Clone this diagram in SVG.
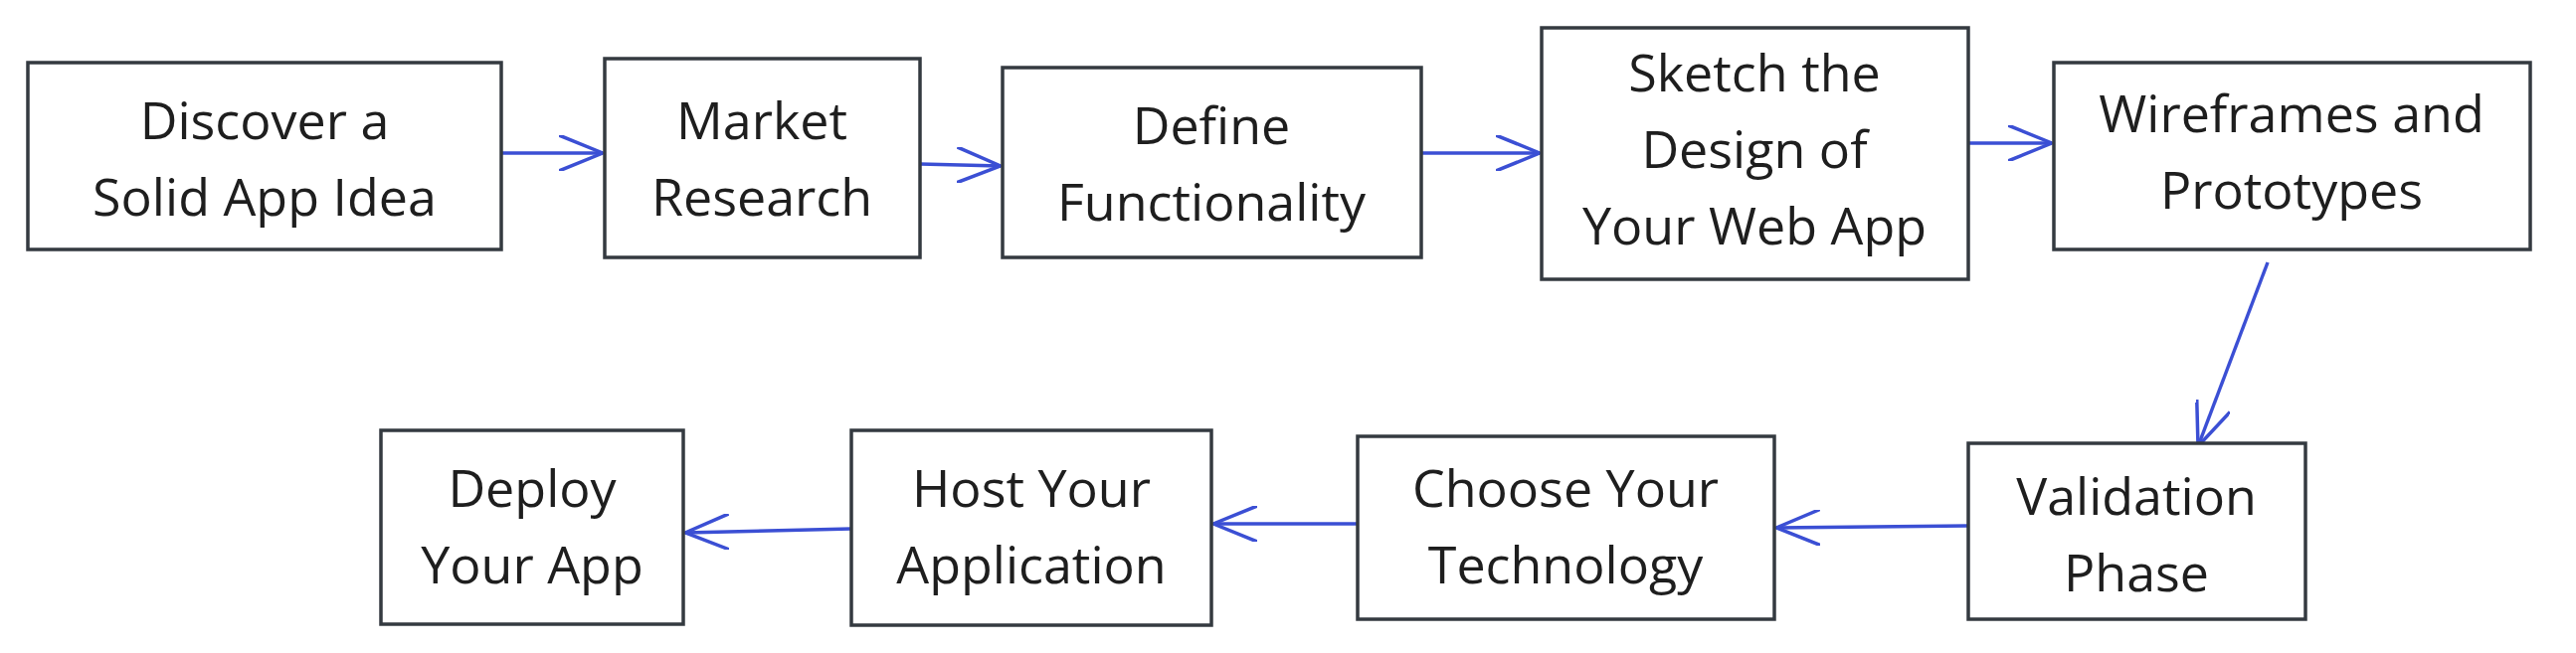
<svg xmlns="http://www.w3.org/2000/svg" width="2590" height="657" viewBox="0 0 2590 657">
<defs>
<style>
.b{fill:#fff;stroke:#343a40;stroke-width:3.5}
.t{font-family:"Open Sans","Liberation Sans",sans-serif;font-size:52px;fill:#1e1e1e;text-anchor:middle}
.c{stroke:#3b4fd4;stroke-width:3.5;fill:none}
</style>
<marker id="a" markerWidth="46" markerHeight="36" refX="44" refY="18" orient="auto" markerUnits="userSpaceOnUse"><path d="M0,0 L44,18 L0,36" fill="none" stroke="#3b4fd4" stroke-width="3.5"/></marker>
</defs>
<rect width="2590" height="657" fill="#fff"/>
<g id="connectors">
<line class="c" x1="504" y1="154" x2="606" y2="154" marker-end="url(#a)"/>
<line class="c" x1="925" y1="165" x2="1006" y2="167" marker-end="url(#a)"/>
<line class="c" x1="1429" y1="154" x2="1548" y2="154" marker-end="url(#a)"/>
<line class="c" x1="1979" y1="144" x2="2063" y2="144" marker-end="url(#a)"/>
<line class="c" x1="2280" y1="264" x2="2210" y2="449" marker-end="url(#a)"/>
<line class="c" x1="1979" y1="529" x2="1786" y2="531" marker-end="url(#a)"/>
<line class="c" x1="1365" y1="527" x2="1220" y2="527" marker-end="url(#a)"/>
<line class="c" x1="856" y1="532" x2="689" y2="536" marker-end="url(#a)"/>
</g>
<g id="n1"><rect class="b" x="28" y="63" width="476" height="188"/><text class="t" x="266" y="140">Discover a</text><text class="t" x="266" y="217">Solid App Idea</text></g>
<g id="n2"><rect class="b" x="608" y="59" width="317" height="200"/><text class="t" x="766" y="140">Market</text><text class="t" x="766" y="217">Research</text></g>
<g id="n3"><rect class="b" x="1008" y="68" width="421" height="191"/><text class="t" x="1218" y="145">Define</text><text class="t" x="1218" y="222">Functionality</text></g>
<g id="n4"><rect class="b" x="1550" y="28" width="429" height="253"/><text class="t" x="1764" y="92">Sketch the</text><text class="t" x="1764" y="169">Design of</text><text class="t" x="1764" y="246">Your Web App</text></g>
<g id="n5"><rect class="b" x="2065" y="63" width="479" height="188"/><text class="t" x="2304" y="133">Wireframes and</text><text class="t" x="2304" y="210">Prototypes</text></g>
<g id="n6"><rect class="b" x="1979" y="446" width="339" height="177"/><text class="t" x="2148" y="518">Validation</text><text class="t" x="2148" y="595">Phase</text></g>
<g id="n7"><rect class="b" x="1365" y="439" width="419" height="184"/><text class="t" x="1574" y="510">Choose Your</text><text class="t" x="1574" y="587">Technology</text></g>
<g id="n8"><rect class="b" x="856" y="433" width="362" height="196"/><text class="t" x="1037" y="510">Host Your</text><text class="t" x="1037" y="587">Application</text></g>
<g id="n9"><rect class="b" x="383" y="433" width="304" height="195"/><text class="t" x="535" y="510">Deploy</text><text class="t" x="535" y="587">Your App</text></g>
</svg>
